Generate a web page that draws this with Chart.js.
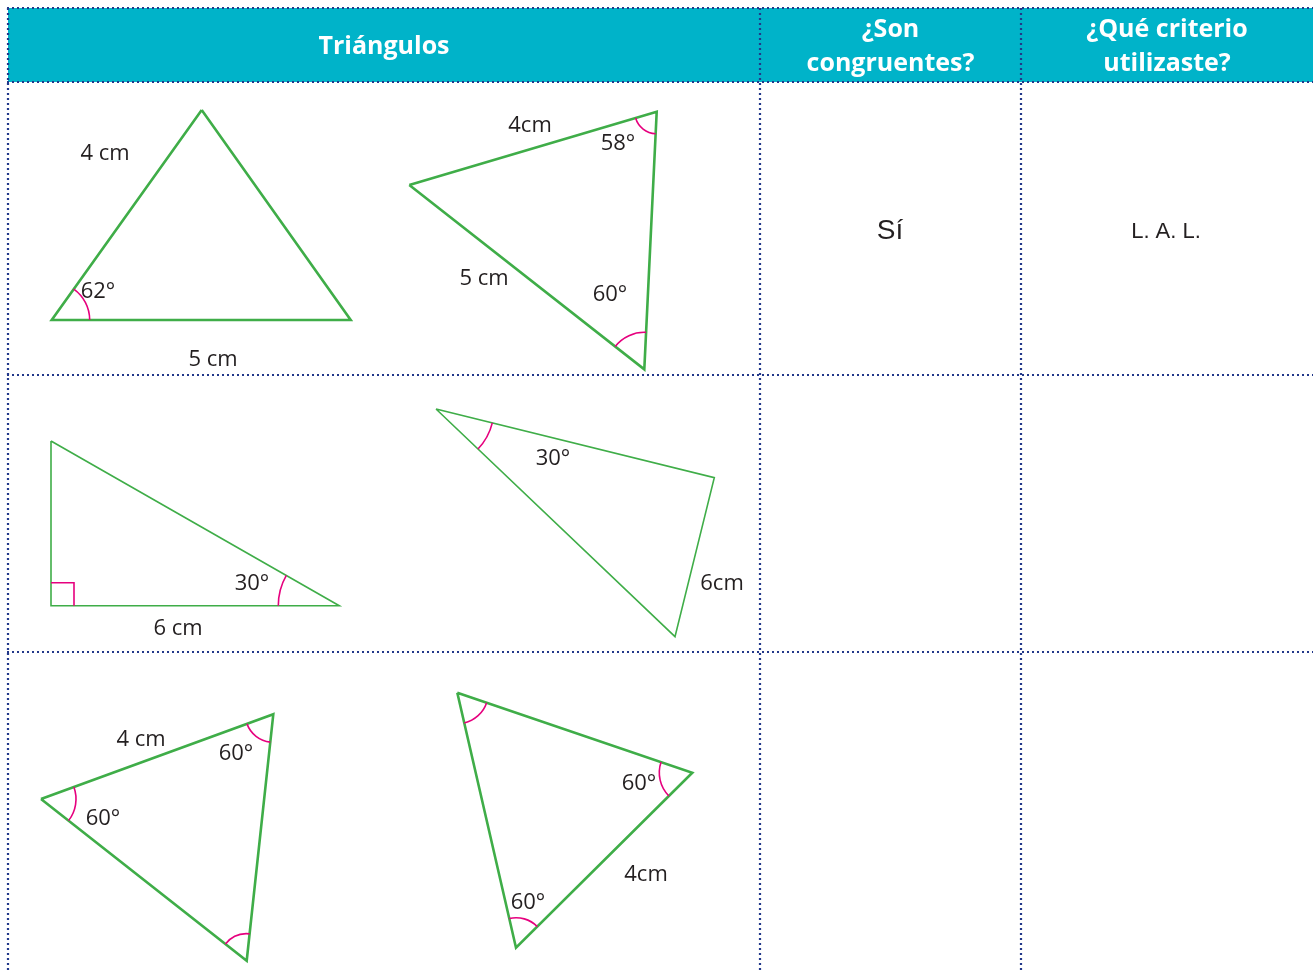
<!DOCTYPE html>
<html>
<head>
<meta charset="utf-8">
<script src="https://cdn.jsdelivr.net/npm/chart.js@4.4.1/dist/chart.umd.min.js"></script>
<style>
  html, body { margin: 0; padding: 0; background: #fff; }
  #wrap { width: 1313px; height: 972px; }
</style>
</head>
<body>
<div id="wrap"><canvas id="c" width="1313" height="972"></canvas></div>
<script>
// ── Data ──────────────────────────────────────────────────────────────────────
const headers   = [['Triángulos'], ['¿Son', 'congruentes?'], ['¿Qué criterio', 'utilizaste?']];
const answers   = ['Sí', 'L. A. L.'];
const colEdges  = [8, 760, 1021, 1313];
const rowEdges  = [8, 82, 375, 652, 972];

// triangle vertices (page units)
const triangles = [
  [[201.7, 110], [51.7, 320], [350.7, 320]],
  [[409.3, 185], [656.7, 111.7], [644.3, 369.3]],
  [[51, 441], [51, 605.7], [339.3, 605.7]],
  [[436, 409], [714.3, 477.7], [675, 636.7]],
  [[41, 799], [273.3, 714.3], [246.7, 960.7]],
  [[457.3, 692.7], [692.3, 772.7], [516, 947.7]]
];
const triWidths = [2.6, 2.6, 1.6, 1.6, 2.6, 2.6];

// [triangle, vertex, radius]
const angleMarks = [
  [0, 1, 38], [1, 1, 22], [1, 2, 37], [2, 2, 61], [3, 0, 58],
  [4, 0, 35], [4, 1, 28], [4, 2, 27], [5, 0, 31], [5, 1, 33], [5, 2, 30]
];
const rightMarks = [[2, 1, 23]];

// [text, x, y]
const labels = [
  ['4 cm', 105, 152], ['62°', 98, 290], ['5 cm', 213, 358],
  ['4cm', 530, 124], ['58°', 618, 142], ['5 cm', 484, 277], ['60°', 610, 293],
  ['30°', 252, 582], ['6 cm', 178, 627],
  ['30°', 553, 457], ['6cm', 722, 582],
  ['4 cm', 141, 738], ['60°', 236, 752], ['60°', 103, 817],
  ['60°', 639, 782], ['4cm', 646, 873], ['60°', 528, 901]
];

// ── Colours ───────────────────────────────────────────────────────────────────
const GREEN = '#3fad48';
const PINK  = '#e6007e';
const TEAL  = '#00b3c9';
const DOTS  = '#22388a';
const INK   = '#231f20';

// ── Table + marks plugin ──────────────────────────────────────────────────────
const tablePlugin = {
  id: 'tabla',
  beforeDatasetsDraw(chart) {
    const { ctx, scales: { x, y } } = chart;
    ctx.save();
    ctx.fillStyle = TEAL;
    const x0 = x.getPixelForValue(colEdges[0]), x1 = x.getPixelForValue(colEdges[3]);
    const y0 = y.getPixelForValue(rowEdges[0]), y1 = y.getPixelForValue(rowEdges[1]);
    ctx.fillRect(x0, y0, x1 - x0, y1 - y0);
    ctx.restore();
  },
  afterDatasetsDraw(chart) {
    const { ctx, scales: { x, y } } = chart;
    const P = p => [x.getPixelForValue(p[0]), y.getPixelForValue(p[1])];
    ctx.save();

    // angle arcs
    ctx.strokeStyle = PINK;
    ctx.lineWidth = 1.6;
    angleMarks.forEach(([t, v, r]) => {
      const tri = triangles[t];
      const V = P(tri[v]), A = P(tri[(v + 1) % 3]), B = P(tri[(v + 2) % 3]);
      const a1 = Math.atan2(A[1] - V[1], A[0] - V[0]);
      const a2 = Math.atan2(B[1] - V[1], B[0] - V[0]);
      let d = a2 - a1;
      while (d > Math.PI) d -= 2 * Math.PI;
      while (d < -Math.PI) d += 2 * Math.PI;
      ctx.beginPath();
      ctx.arc(V[0], V[1], r, a1, a1 + d, d < 0);
      ctx.stroke();
    });

    // right angle squares
    rightMarks.forEach(([t, v, s]) => {
      const tri = triangles[t];
      const V = P(tri[v]), A = P(tri[(v + 1) % 3]), B = P(tri[(v + 2) % 3]);
      const ua = [A[0] - V[0], A[1] - V[1]], ub = [B[0] - V[0], B[1] - V[1]];
      const la = Math.hypot(...ua), lb = Math.hypot(...ub);
      const pa = [V[0] + ua[0] / la * s, V[1] + ua[1] / la * s];
      const pb = [V[0] + ub[0] / lb * s, V[1] + ub[1] / lb * s];
      ctx.beginPath();
      ctx.moveTo(pa[0], pa[1]);
      ctx.lineTo(pa[0] + pb[0] - V[0], pa[1] + pb[1] - V[1]);
      ctx.lineTo(pb[0], pb[1]);
      ctx.stroke();
    });

    // dotted grid
    ctx.strokeStyle = DOTS;
    ctx.lineWidth = 2.2;
    ctx.setLineDash([2, 3]);
    const right = x.getPixelForValue(colEdges[3]);
    rowEdges.slice(0, 4).forEach(r => {
      const yy = y.getPixelForValue(r);
      ctx.beginPath();
      ctx.moveTo(x.getPixelForValue(colEdges[0]) - 1, yy);
      ctx.lineTo(right, yy);
      ctx.stroke();
    });
    colEdges.slice(0, 3).forEach(c => {
      const xx = x.getPixelForValue(c);
      ctx.beginPath();
      ctx.moveTo(xx, y.getPixelForValue(rowEdges[0]));
      ctx.lineTo(xx, y.getPixelForValue(rowEdges[4]));
      ctx.stroke();
    });
    ctx.setLineDash([]);

    // header text
    ctx.fillStyle = '#ffffff';
    ctx.textAlign = 'center';
    ctx.textBaseline = 'middle';
    ctx.font = 'bold 25px "Open Sans"';
    const hy = (rowEdges[0] + rowEdges[1]) / 2;
    headers.forEach((lines, i) => {
      const cx = x.getPixelForValue((colEdges[i] + colEdges[i + 1]) / 2);
      lines.forEach((ln, j) => {
        const off = (j - (lines.length - 1) / 2) * 34;
        ctx.fillText(ln, cx, y.getPixelForValue(hy + off) + 2);
      });
    });

    // answers in first row
    ctx.fillStyle = INK;
    const ay = y.getPixelForValue(231);
    ctx.font = '28px "Liberation Sans", Arial';
    ctx.fillText(answers[0], x.getPixelForValue(890), ay);
    ctx.font = '22px "Liberation Sans", Arial';
    ctx.fillText(answers[1], x.getPixelForValue(1166), ay + 1);

    // triangle labels
    ctx.font = '22px "Open Sans"';
    labels.forEach(([txt, lx, ly]) => {
      ctx.fillText(txt, x.getPixelForValue(lx), y.getPixelForValue(ly) + 2);
    });

    ctx.restore();
  }
};

// ── Chart ─────────────────────────────────────────────────────────────────────
const datasets = triangles.map((tri, i) => ({
  data: tri.concat([tri[0]]).map(p => ({ x: p[0], y: p[1] })),
  showLine: true,
  borderColor: GREEN,
  borderWidth: triWidths[i],
  borderJoinStyle: 'miter',
  pointRadius: 0,
  fill: false,
  tension: 0
}));

new Chart(document.getElementById('c').getContext('2d'), {
  type: 'scatter',
  data: { datasets },
  options: {
    responsive: false,
    animation: false,
    layout: { padding: 0 },
    plugins: { legend: { display: false }, tooltip: { enabled: false } },
    scales: {
      x: { type: 'linear', min: 0, max: 1313, display: false },
      y: { type: 'linear', min: 0, max: 972, reverse: true, display: false }
    }
  },
  plugins: [tablePlugin]
});
</script>
</body>
</html>
